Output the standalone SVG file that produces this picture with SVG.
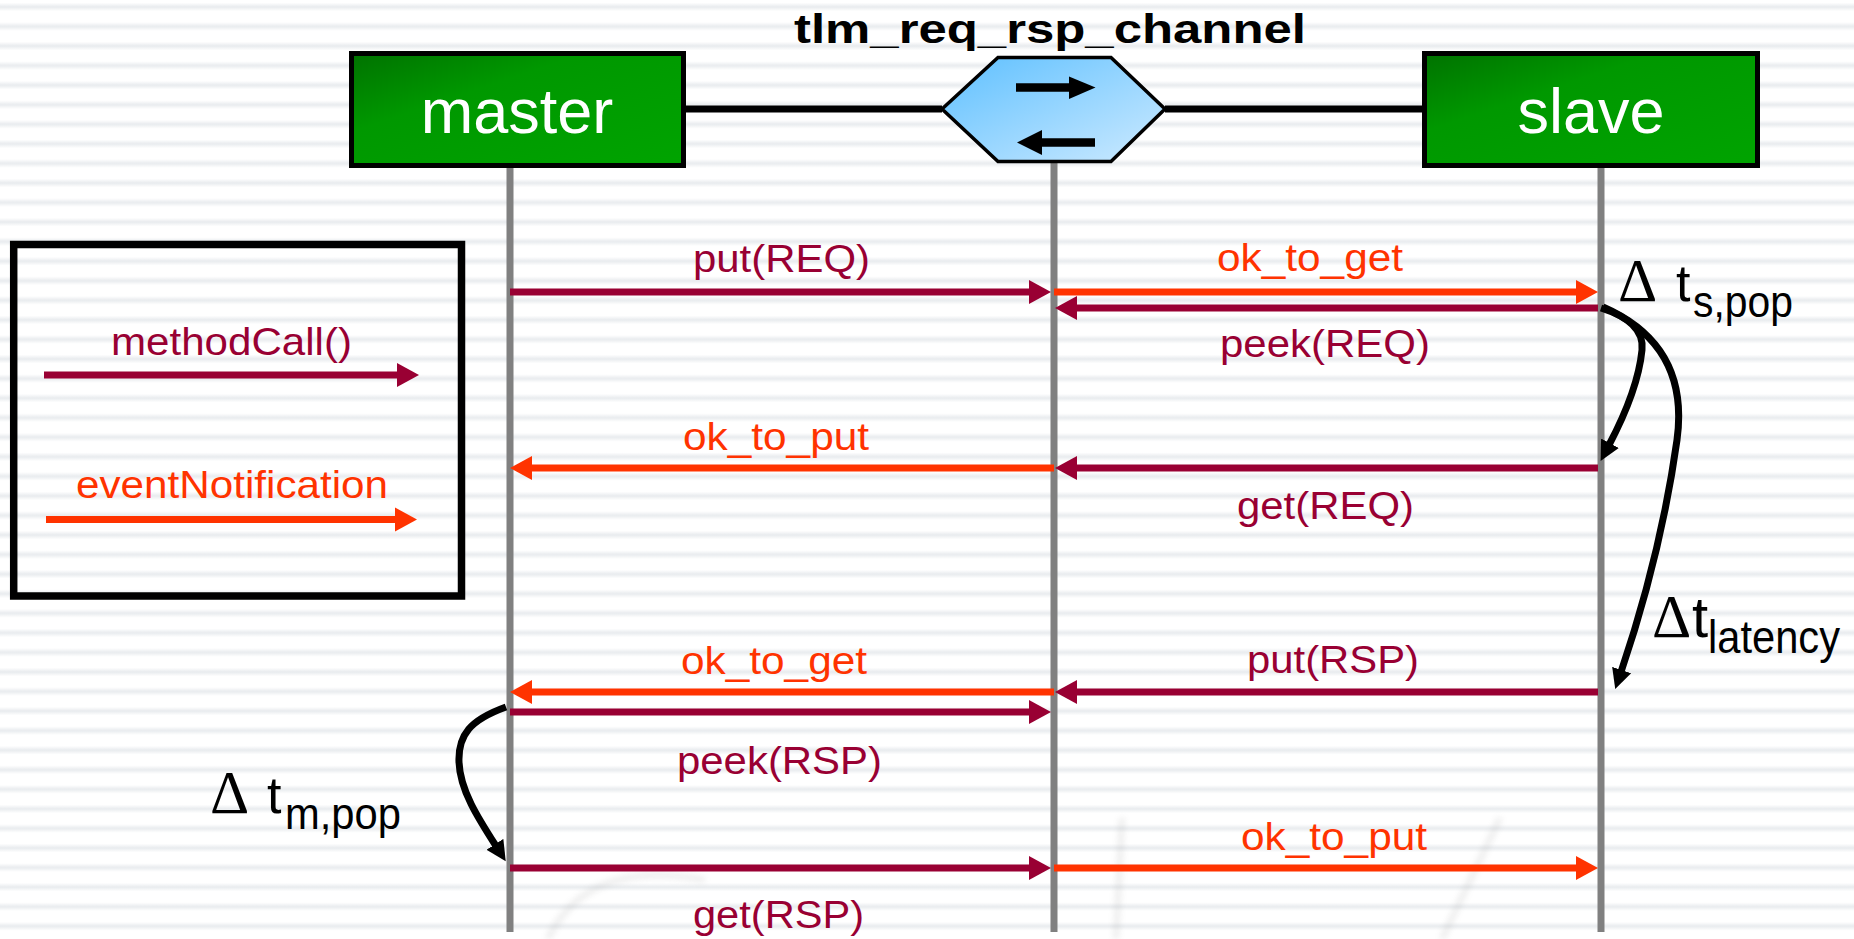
<svg xmlns="http://www.w3.org/2000/svg" width="1854" height="939" viewBox="0 0 1854 939">
  <defs>
    <!-- ruled background -->
    <linearGradient id="stripeShade" x1="0" y1="0" x2="0" y2="1">
      <stop offset="0" stop-color="#ffffff"/>
      <stop offset="0.28" stop-color="#ffffff"/>
      <stop offset="0.5" stop-color="#e8ebee"/>
      <stop offset="0.72" stop-color="#ffffff"/>
      <stop offset="1" stop-color="#ffffff"/>
    </linearGradient>
    <pattern id="stripes" patternUnits="userSpaceOnUse" x="0" y="16.7" width="1854" height="19.56">
      <rect x="0" y="0" width="1854" height="19.56" fill="url(#stripeShade)"/>
    </pattern>
    <linearGradient id="boxGreen" x1="0" y1="0" x2="1" y2="1">
      <stop offset="0" stop-color="#007200"/>
      <stop offset="0.35" stop-color="#009800"/>
      <stop offset="1" stop-color="#00a400"/>
    </linearGradient>
    <linearGradient id="chanBlue" x1="0" y1="0" x2="1" y2="1">
      <stop offset="0" stop-color="#5ec0ff"/>
      <stop offset="1" stop-color="#cdeaff"/>
    </linearGradient>
    <filter id="soft" x="-10%" y="-10%" width="120%" height="120%">
      <feGaussianBlur stdDeviation="3"/>
    </filter>
    <marker id="headMethod" markerUnits="userSpaceOnUse" markerWidth="24" markerHeight="26" viewBox="0 -13 24 26" refX="2" refY="0" orient="auto">
      <path d="M0,-12 L22,0 L0,12 z" fill="#990033"/>
    </marker>
    <marker id="headEvent" markerUnits="userSpaceOnUse" markerWidth="24" markerHeight="26" viewBox="0 -13 24 26" refX="2" refY="0" orient="auto">
      <path d="M0,-12 L22,0 L0,12 z" fill="#ff3300"/>
    </marker>
    <marker id="headDelay" markerUnits="userSpaceOnUse" markerWidth="22" markerHeight="22" viewBox="0 -11 22 22" refX="2" refY="0" orient="auto">
      <path d="M0,-10 L20,0 L0,10 z" fill="#000000"/>
    </marker>
  </defs>
  <style>
    .sans { font-family: "Liberation Sans", Arial, sans-serif; }
    .serif { font-family: "Liberation Serif", "Times New Roman", serif; }
    .lbl { font-size: 39px; }
    .txtM { fill: #990033; }
    .txtE { fill: #ff3300; }
    .call { stroke: #990033; stroke-width: 7; fill: none; marker-end: url(#headMethod); }
    .evt { stroke: #ff3300; stroke-width: 7; fill: none; marker-end: url(#headEvent); }
    .delay { stroke: #000000; stroke-width: 7; fill: none; marker-end: url(#headDelay); }
    .life { stroke: #808080; stroke-width: 7; }
    .box { fill: url(#boxGreen); stroke: #000000; stroke-width: 5; }
    .boxText { fill: #ffffff; font-size: 63px; }
    .delta { font-size: 61px; fill: #000000; }
    .tee { fill: #000000; }
  </style>

  <rect x="0" y="0" width="1854" height="939" fill="#ffffff"/>
  <rect x="0" y="0" width="1854" height="939" fill="url(#stripes)"/>

  <!-- faint background sketch -->
  <g opacity="0.18" filter="url(#soft)" stroke="#8a8a8a" stroke-width="5" fill="none">
    <path d="M548,939 C575,882 630,866 705,880"/>
    <path d="M1122,818 L1116,939"/>
    <path d="M1500,818 L1442,939"/>
  </g>

  <!-- title -->
  <text class="sans" x="794" y="43" font-size="40" font-weight="bold" textLength="512" lengthAdjust="spacingAndGlyphs">tlm_req_rsp_channel</text>

  <!-- port links between nodes -->
  <g id="links" stroke="#000000" stroke-width="7">
    <line x1="686" y1="109" x2="942" y2="109"/>
    <line x1="1165" y1="109" x2="1422" y2="109"/>
  </g>

  <!-- lifelines -->
  <g id="lifelines">
    <line class="life" x1="510" y1="168" x2="510" y2="932"/>
    <line class="life" x1="1054" y1="162" x2="1054" y2="932"/>
    <line class="life" x1="1601" y1="168" x2="1601" y2="932"/>
  </g>

  <g id="master">
    <rect class="box" x="351.5" y="53.5" width="332" height="112"/>
    <text class="sans boxText" x="517" y="133" text-anchor="middle">master</text>
  </g>

  <g id="slave">
    <rect class="box" x="1424.5" y="53.5" width="333" height="112"/>
    <text class="sans boxText" x="1591" y="133" text-anchor="middle">slave</text>
  </g>

  <g id="channel">
    <polygon points="942,109 998,57.5 1111,57.5 1165,109 1111,161.5 998,161.5" fill="url(#chanBlue)" stroke="#000000" stroke-width="3.5"/>
    <line x1="1016" y1="87.5" x2="1071" y2="87.5" stroke="#000000" stroke-width="8.5"/>
    <polygon points="1069,76.5 1095.5,87.5 1069,99" fill="#000000"/>
    <line x1="1095" y1="142.5" x2="1040" y2="142.5" stroke="#000000" stroke-width="8.5"/>
    <polygon points="1042,130 1017,142.5 1042,155" fill="#000000"/>
  </g>

  <g id="legend">
    <rect x="13.7" y="244.5" width="447.8" height="351.5" fill="none" stroke="#000000" stroke-width="7.5"/>
    <text class="sans lbl txtM" x="111" y="355" textLength="241" lengthAdjust="spacingAndGlyphs">methodCall()</text>
    <line class="call" x1="44" y1="375" x2="399" y2="375"/>
    <text class="sans lbl txtE" x="76" y="498" textLength="312" lengthAdjust="spacingAndGlyphs">eventNotification</text>
    <line class="evt" x1="46" y1="519.5" x2="397" y2="519.5"/>
  </g>

  <!-- messages -->
  <g id="connectors">
    <line class="call" x1="510" y1="292" x2="1031" y2="292"/>
    <line class="evt" x1="1054" y1="292" x2="1578" y2="292"/>
    <line class="call" x1="1598" y1="308" x2="1075" y2="308"/>
    <line class="evt" x1="1054" y1="468" x2="530" y2="468"/>
    <line class="call" x1="1598" y1="468" x2="1075" y2="468"/>
    <line class="evt" x1="1054" y1="692" x2="530" y2="692"/>
    <line class="call" x1="1598" y1="692" x2="1075" y2="692"/>
    <line class="call" x1="510" y1="712" x2="1031" y2="712"/>
    <line class="call" x1="510" y1="868" x2="1031" y2="868"/>
    <line class="evt" x1="1054" y1="868" x2="1578" y2="868"/>

    <!-- timing spans -->
    <path class="delay" d="M1601,308 Q1645,322 1642,350 Q1638,390 1609,445"/>
    <path class="delay" d="M1603,307 Q1690,345 1677,440 Q1661,554 1621,672"/>
    <path class="delay" d="M506,707 C470,720 458,735 459,762 C460,790 478,818 496,846"/>
  </g>

  <!-- message labels -->
  <g id="labels" class="sans lbl">
    <text class="txtM" x="693" y="272" textLength="177" lengthAdjust="spacingAndGlyphs">put(REQ)</text>
    <text class="txtE" x="1217" y="271" textLength="186" lengthAdjust="spacingAndGlyphs">ok_to_get</text>
    <text class="txtM" x="1220" y="357" textLength="210" lengthAdjust="spacingAndGlyphs">peek(REQ)</text>
    <text class="txtE" x="683" y="450" textLength="186" lengthAdjust="spacingAndGlyphs">ok_to_put</text>
    <text class="txtM" x="1237" y="519" textLength="177" lengthAdjust="spacingAndGlyphs">get(REQ)</text>
    <text class="txtE" x="681" y="674" textLength="186" lengthAdjust="spacingAndGlyphs">ok_to_get</text>
    <text class="txtM" x="1247" y="673" textLength="172" lengthAdjust="spacingAndGlyphs">put(RSP)</text>
    <text class="txtM" x="677" y="774" textLength="205" lengthAdjust="spacingAndGlyphs">peek(RSP)</text>
    <text class="txtE" x="1241" y="850" textLength="186" lengthAdjust="spacingAndGlyphs">ok_to_put</text>
    <text class="txtM" x="693" y="928" textLength="171" lengthAdjust="spacingAndGlyphs">get(RSP)</text>
  </g>

  <!-- timing labels -->
  <g id="timing-slave-pop">
    <text class="serif delta" x="1618" y="301">Δ</text>
    <text class="sans tee" x="1676" y="301" font-size="52">t</text>
    <text class="sans tee" x="1693" y="317" font-size="44" textLength="100" lengthAdjust="spacingAndGlyphs">s,pop</text>
  </g>
  <g id="timing-latency">
    <text class="serif delta" x="1652" y="637">Δ</text>
    <text class="sans tee" x="1692" y="637" font-size="58">t</text>
    <text class="sans tee" x="1708" y="653" font-size="46" textLength="132" lengthAdjust="spacingAndGlyphs">latency</text>
  </g>
  <g id="timing-master-pop">
    <text class="serif delta" x="210" y="813">Δ</text>
    <text class="sans tee" x="267" y="813" font-size="52">t</text>
    <text class="sans tee" x="285" y="829" font-size="44" textLength="116" lengthAdjust="spacingAndGlyphs">m,pop</text>
  </g>
</svg>
